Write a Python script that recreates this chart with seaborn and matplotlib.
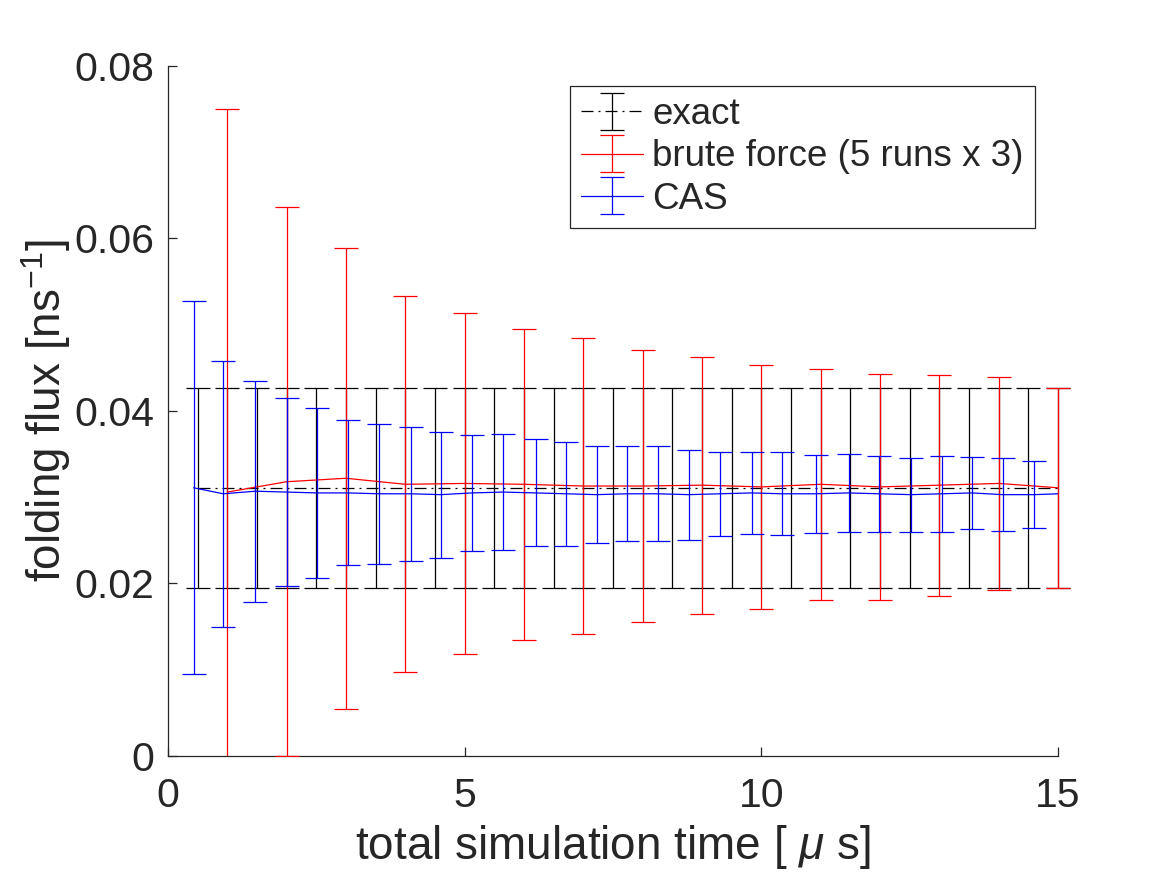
import numpy as np
import seaborn as sns
import matplotlib.pyplot as plt
from matplotlib.patches import Rectangle
from matplotlib.legend_handler import HandlerTuple

# exact reference value
exact_t = [0.5, 1.0, 1.5, 2.0, 2.5, 3.0, 3.5, 4.0, 4.5, 5.0, 5.5, 6.0, 6.5, 7.0, 7.5,
           8.0, 8.5, 9.0, 9.5, 10.0, 10.5, 11.0, 11.5, 12.0, 12.5, 13.0, 13.5, 14.0, 14.5, 15.0]
exact_flux = [0.0311, 0.0311, 0.0311, 0.0311, 0.0311, 0.0311, 0.0311, 0.0311, 0.0311, 0.0311,
              0.0311, 0.0311, 0.0311, 0.0311, 0.0311, 0.0311, 0.0311, 0.0311, 0.0311, 0.0311,
              0.0311, 0.0311, 0.0311, 0.0311, 0.0311, 0.0311, 0.0311, 0.0311, 0.0311, 0.0311]
exact_err = [0.0116, 0.0116, 0.0116, 0.0116, 0.0116, 0.0116, 0.0116, 0.0116, 0.0116, 0.0116,
             0.0116, 0.0116, 0.0116, 0.0116, 0.0116, 0.0116, 0.0116, 0.0116, 0.0116, 0.0116,
             0.0116, 0.0116, 0.0116, 0.0116, 0.0116, 0.0116, 0.0116, 0.0116, 0.0116, 0.0116]

# brute force
bf_t = [1, 2, 3, 4, 5, 6, 7, 8, 9, 10, 11, 12, 13, 14, 15]
bf_flux = [0.0306, 0.0318, 0.0322, 0.0315, 0.0316, 0.0315, 0.0313, 0.0313, 0.0314, 0.0312,
           0.0315, 0.0312, 0.0314, 0.0316, 0.0311]
bf_err = [0.0444, 0.0318, 0.0267, 0.0218, 0.0198, 0.0180, 0.0172, 0.0158, 0.0149, 0.0141,
          0.0134, 0.0131, 0.0128, 0.0123, 0.0116]

# CAS
cas_t = [0.43, 0.93, 1.47, 2.00, 2.51, 3.04, 3.56, 4.09, 4.60, 5.12, 5.65, 6.20, 6.71, 7.23,
         7.73, 8.25, 8.78, 9.30, 9.84, 10.35, 10.92, 11.47, 11.98, 12.52, 13.04, 13.55, 14.07,
         14.60, 15.0]
cas_flux = [0.0311, 0.0304, 0.0307, 0.0306, 0.0305, 0.0305, 0.0304, 0.0304, 0.0303, 0.0305,
            0.0306, 0.0305, 0.0304, 0.0303, 0.0304, 0.0304, 0.0303, 0.0304, 0.0305, 0.0304,
            0.0304, 0.0305, 0.0304, 0.0303, 0.0304, 0.0305, 0.0303, 0.0303, 0.0304]
cas_err = [0.0216, 0.0154, 0.0128, 0.0109, 0.0099, 0.0084, 0.0081, 0.0078, 0.0073, 0.0067,
           0.0067, 0.0062, 0.0060, 0.0056, 0.0055, 0.0055, 0.0052, 0.0049, 0.0048, 0.0048,
           0.0045, 0.0045, 0.0044, 0.0043, 0.0044, 0.0042, 0.0042, 0.0039, np.nan]

sns.set_theme(style="ticks")
plt.rcParams['font.family'] = ['Liberation Sans', 'DejaVu Sans']
plt.rcParams['mathtext.fontset'] = 'custom'
plt.rcParams['mathtext.rm'] = 'Liberation Sans'
plt.rcParams['mathtext.it'] = 'Liberation Sans:italic'

fig = plt.figure(figsize=(11.67, 8.75), dpi=100)
ax = fig.add_axes([0.144, 0.136, 0.7626, 0.7886])

lw = 0.9
cap = 8.5

l_exact = sns.lineplot(x=exact_t, y=exact_flux, ax=ax, color='black', lw=lw,
                       linestyle=(0, (9.6, 4, 1.6, 4)), sort=False, estimator=None,
                       zorder=2).lines[-1]
e_exact = ax.errorbar(exact_t, exact_flux, yerr=exact_err, fmt='none', ecolor='black',
                      elinewidth=lw, capsize=cap, capthick=lw, zorder=2)

l_bf = sns.lineplot(x=bf_t, y=bf_flux, ax=ax, color='red', lw=lw, sort=False,
                    estimator=None, zorder=3).lines[-1]
e_bf = ax.errorbar(bf_t, bf_flux, yerr=bf_err, fmt='none', ecolor='red',
                   elinewidth=lw, capsize=cap, capthick=lw, zorder=3)

l_cas = sns.lineplot(x=cas_t, y=cas_flux, ax=ax, color='blue', lw=lw, sort=False,
                     estimator=None, zorder=4).lines[-1]
e_cas = ax.errorbar(cas_t, cas_flux, yerr=cas_err, fmt='none', ecolor='blue',
                    elinewidth=lw, capsize=cap, capthick=lw, zorder=4)

# clip only in y, so caps at the x limits stay whole (like matlab)
clip = Rectangle((-0.05, 0), 1.1, 1.0, transform=ax.transAxes)
for cont in [e_exact, e_bf, e_cas]:
    for art in cont.get_children():
        art.set_clip_path(clip)

ax.set_xlim(0, 15)
ax.set_ylim(0, 0.08)
ax.set_xticks([0, 5, 10, 15])
ax.set_yticks([0, 0.02, 0.04, 0.06, 0.08])
ax.set_yticklabels(['0', '0.02', '0.04', '0.06', '0.08'])
ax.tick_params(direction='in', length=6.5, width=0.9, colors='#262626',
               labelsize=29.5, pad=10)
ax.tick_params(axis='x', pad=15)
for s in ['left', 'bottom']:
    ax.spines[s].set_color('#262626')
    ax.spines[s].set_linewidth(0.9)
sns.despine(ax=ax)

ax.set_xlabel(r'total simulation time [ $\mu$ s]', fontsize=33, color='#262626', labelpad=6)
ax.set_ylabel(r'folding flux [ns$^{-1}$]', fontsize=33, color='#262626', labelpad=0.5)

leg = ax.legend([(l_exact, e_exact), (l_bf, e_bf), (l_cas, e_cas)],
                ['exact', 'brute force (5 runs x 3)', 'CAS'],
                handler_map={tuple: HandlerTuple(ndivide=1, pad=0)},
                loc='upper right', bbox_to_anchor=(0.974, 0.971), borderaxespad=0,
                fontsize=26.5, frameon=True, fancybox=False, framealpha=1,
                edgecolor='#262626', borderpad=0.3, labelspacing=0.2,
                handlelength=1.7, handletextpad=0.25)
leg.get_frame().set_linewidth(0.9)

fig.savefig('out.png', dpi=100)
